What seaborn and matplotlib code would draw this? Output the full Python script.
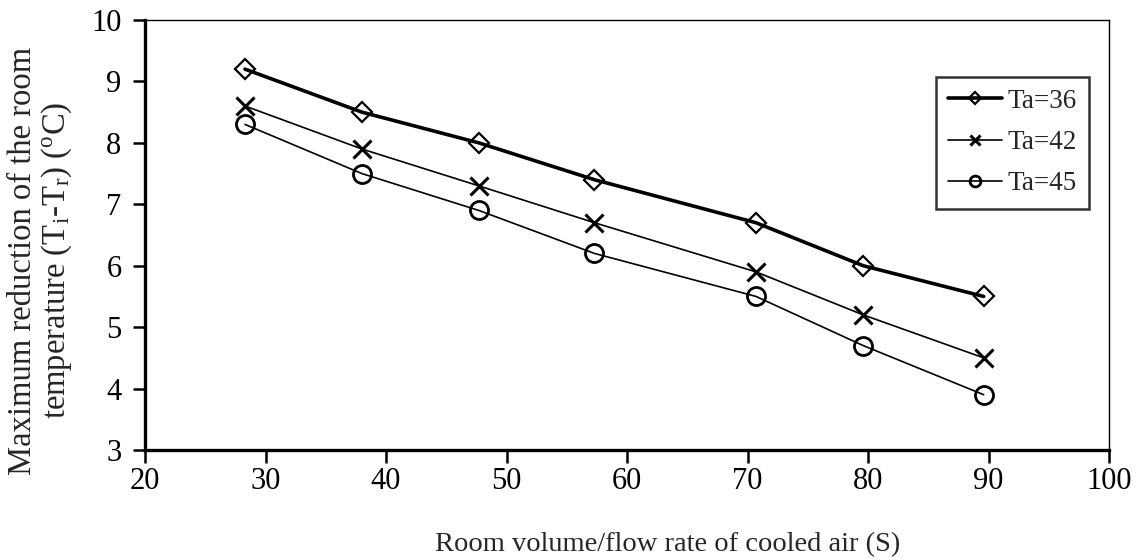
import numpy as np
import pandas as pd
import matplotlib
matplotlib.use("Agg")
import matplotlib.pyplot as plt
import seaborn as sns

# room volume / flow rate of cooled air (S)
s_values = [28.3, 38.0, 47.7, 57.3, 70.7, 79.6, 89.6]
ta36 = [9.2, 8.5, 8.0, 7.4, 6.7, 6.0, 5.5]
ta42 = [8.6, 7.9, 7.3, 6.7, 5.9, 5.2, 4.5]
ta45 = [8.3, 7.5, 6.9, 6.2, 5.5, 4.7, 3.9]
labels = ["Ta=36", "Ta=42", "Ta=45"]

sns.set_style("white")
plt.rcParams['font.family'] = ['Liberation Serif', 'DejaVu Serif']
plt.rcParams['mathtext.fontset'] = 'custom'
plt.rcParams['mathtext.rm'] = 'Liberation Serif'
plt.rcParams['mathtext.it'] = 'Liberation Serif'

df = pd.DataFrame({
    'S': s_values * 3,
    'dT': ta36 + ta42 + ta45,
    'Ta': [labels[0]] * 7 + [labels[1]] * 7 + [labels[2]] * 7,
})

fig = plt.figure(figsize=(11.45, 5.6), dpi=100)
ax = fig.add_axes([145 / 1145, 110 / 560, 964 / 1145, 430 / 560])

styles = {
    "Ta=36": dict(marker='D', lw=2.6, ms=10, mew=1.6),
    "Ta=42": dict(marker='x', lw=1.2, ms=13, mew=2.2),
    "Ta=45": dict(marker='o', lw=1.2, ms=13, mew=2.0),
}
for lab in labels:
    st = styles[lab]
    sns.lineplot(data=df[df['Ta'] == lab], x='S', y='dT', ax=ax, color='black',
                 marker=st['marker'], linewidth=st['lw'], markersize=st['ms'],
                 markeredgewidth=st['mew'], markerfacecolor='none',
                 markeredgecolor='black', label=lab)

ax.set_xlim(20, 100)
ax.set_ylim(3, 10)
ax.set_xticks(range(20, 101, 10))
ax.set_yticks(range(3, 11))
ax.tick_params(axis='both', direction='out', length=9, width=1.8, labelsize=22,
               colors='black', bottom=True, left=True)
ax.tick_params(axis='x', pad=3)
ax.tick_params(axis='y', pad=8)

for side in ['left', 'bottom']:
    ax.spines[side].set_linewidth(2.4)
for side in ['top', 'right']:
    ax.spines[side].set_linewidth(1.0)
for sp in ax.spines.values():
    sp.set_color('black')

ax.set_xlabel('Room volume/flow rate of cooled air (S)', fontsize=20.5)
ax.xaxis.set_label_coords(0.5425, -0.192)
ax.set_ylabel('Maximum reduction of the room\ntemperature (T$_{i}$-T$_{r}$) ($^{o}$C)',
              fontsize=23.5, linespacing=1.05)
ax.yaxis.set_label_coords(-0.074, 0.44)

leg = ax.legend(loc='upper right', bbox_to_anchor=(0.9795, 0.868), fontsize=19.5,
                frameon=True, fancybox=False, edgecolor='black', markerscale=0.6,
                handlelength=2.0, handletextpad=0.2, borderpad=0.45, labelspacing=0.6,
                borderaxespad=0.0)
leg.get_frame().set_linewidth(1.8)

fig.savefig('out.png', dpi=100)
